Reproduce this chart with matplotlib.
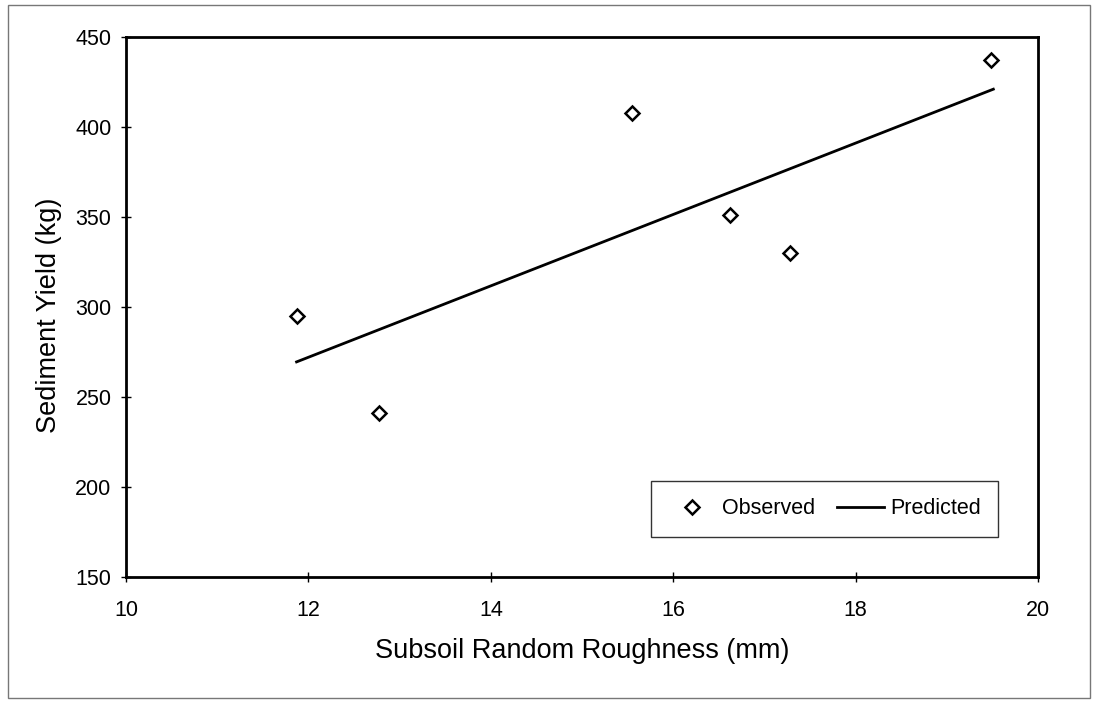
import numpy as np
import matplotlib.pyplot as plt
from matplotlib.patches import Rectangle

plt.rcParams['font.family'] = ['Liberation Sans', 'DejaVu Sans']

# Observed sediment yield vs subsoil random roughness
roughness = [11.875, 12.77, 15.545, 16.62, 17.28, 19.48]
observed = [295, 241, 408, 351, 330, 437]

# Predicted (fitted line)
pred_x = [11.87, 19.51]
pred_y = [269.5, 421]

fig = plt.figure(figsize=(10.93, 7.03), dpi=100)
ax = fig.add_axes([0.1153, 0.1792, 0.8344, 0.7682])

ax.plot(roughness, observed, linestyle='none', marker='D', markersize=7.5,
        markerfacecolor='white', markeredgecolor='black', markeredgewidth=1.8,
        label='Observed')
ax.plot(pred_x, pred_y, color='black', linewidth=2, label='Predicted')

ax.set_xlim(10, 20)
ax.set_ylim(150, 450)
ax.set_xticks([10, 12, 14, 16, 18, 20])
ax.set_yticks([150, 200, 250, 300, 350, 400, 450])
ax.tick_params(direction='inout', length=7, width=1, labelsize=15.5)
ax.tick_params(axis='x', pad=13)
ax.tick_params(axis='y', pad=7)
for s in ax.spines.values():
    s.set_linewidth(2)

ax.set_xlabel('Subsoil Random Roughness (mm)', fontsize=19.5, labelpad=12)
ax.set_ylabel('Sediment Yield (kg)', fontsize=19.5)
ax.yaxis.set_label_coords(-0.07, 0.485)

leg = ax.legend(loc='center', bbox_to_anchor=(0.766, 0.126), ncol=2,
                fontsize=15.5, frameon=True, fancybox=False, handlelength=2.2,
                columnspacing=1.0, borderpad=0.8, handletextpad=0.3)
leg.get_frame().set_edgecolor('black')
leg.get_frame().set_linewidth(1)

# thin outer border around the chart area
fig.patches.append(Rectangle((0.007, 0.007), 0.99, 0.986, transform=fig.transFigure,
                             fill=False, edgecolor='#777777', linewidth=1))

fig.savefig('out.png', dpi=100)
